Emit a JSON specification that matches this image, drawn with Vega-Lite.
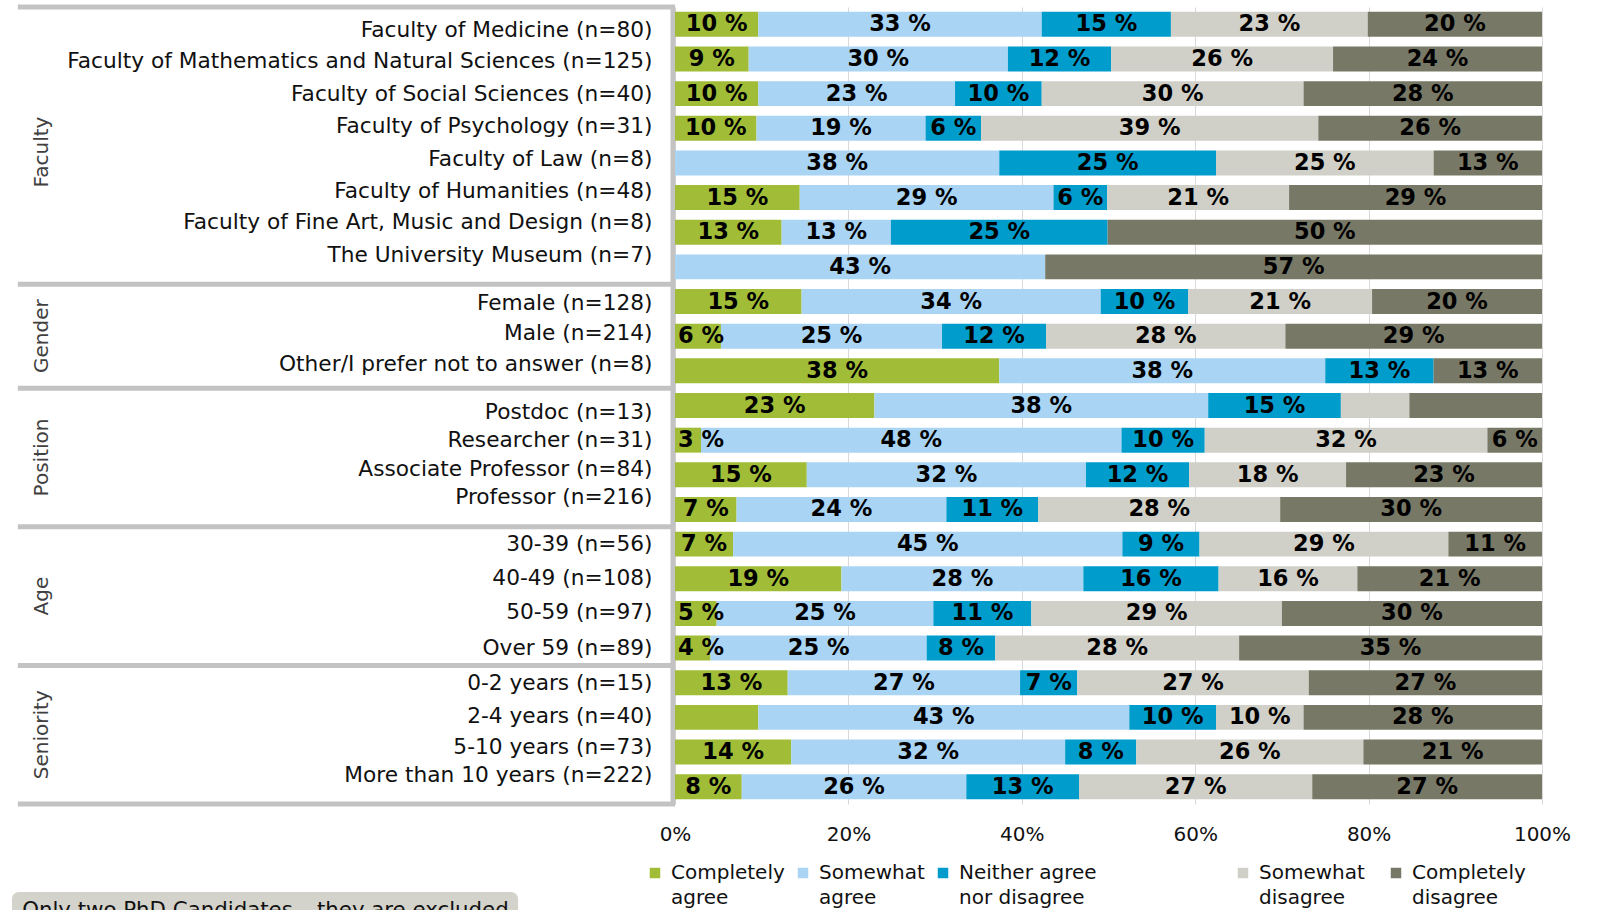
{
  "$schema": "https://vega.github.io/schema/vega-lite/v6.json",
  "width": 867,
  "height": 797,
  "autosize": {"type": "none"},
  "padding": {"left": 675, "top": 7, "right": 56, "bottom": 106},
  "background": "white",
  "config": {"font": "DejaVu Sans", "view": {"stroke": null}},
  "datasets": {
    "bars": [
      {"cat": "Faculty of Medicine (n=80)", "resp": "Completely agree", "k": 1, "pct": 9.6, "label": "10 %"},
      {"cat": "Faculty of Medicine (n=80)", "resp": "Somewhat agree", "k": 2, "pct": 32.7, "label": "33 %"},
      {"cat": "Faculty of Medicine (n=80)", "resp": "Neither agree nor disagree", "k": 3, "pct": 14.9, "label": "15 %"},
      {"cat": "Faculty of Medicine (n=80)", "resp": "Somewhat disagree", "k": 4, "pct": 22.7, "label": "23 %"},
      {"cat": "Faculty of Medicine (n=80)", "resp": "Completely disagree", "k": 5, "pct": 20.1, "label": "20 %"},
      {"cat": "Faculty of Mathematics and Natural Sciences (n=125)", "resp": "Completely agree", "k": 1, "pct": 8.5, "label": "9 %"},
      {"cat": "Faculty of Mathematics and Natural Sciences (n=125)", "resp": "Somewhat agree", "k": 2, "pct": 29.9, "label": "30 %"},
      {"cat": "Faculty of Mathematics and Natural Sciences (n=125)", "resp": "Neither agree nor disagree", "k": 3, "pct": 11.9, "label": "12 %"},
      {"cat": "Faculty of Mathematics and Natural Sciences (n=125)", "resp": "Somewhat disagree", "k": 4, "pct": 25.6, "label": "26 %"},
      {"cat": "Faculty of Mathematics and Natural Sciences (n=125)", "resp": "Completely disagree", "k": 5, "pct": 24.1, "label": "24 %"},
      {"cat": "Faculty of Social Sciences (n=40)", "resp": "Completely agree", "k": 1, "pct": 9.6, "label": "10 %"},
      {"cat": "Faculty of Social Sciences (n=40)", "resp": "Somewhat agree", "k": 2, "pct": 22.7, "label": "23 %"},
      {"cat": "Faculty of Social Sciences (n=40)", "resp": "Neither agree nor disagree", "k": 3, "pct": 10.0, "label": "10 %"},
      {"cat": "Faculty of Social Sciences (n=40)", "resp": "Somewhat disagree", "k": 4, "pct": 30.2, "label": "30 %"},
      {"cat": "Faculty of Social Sciences (n=40)", "resp": "Completely disagree", "k": 5, "pct": 27.5, "label": "28 %"},
      {"cat": "Faculty of Psychology (n=31)", "resp": "Completely agree", "k": 1, "pct": 9.4, "label": "10 %"},
      {"cat": "Faculty of Psychology (n=31)", "resp": "Somewhat agree", "k": 2, "pct": 19.5, "label": "19 %"},
      {"cat": "Faculty of Psychology (n=31)", "resp": "Neither agree nor disagree", "k": 3, "pct": 6.4, "label": "6 %"},
      {"cat": "Faculty of Psychology (n=31)", "resp": "Somewhat disagree", "k": 4, "pct": 38.9, "label": "39 %"},
      {"cat": "Faculty of Psychology (n=31)", "resp": "Completely disagree", "k": 5, "pct": 25.8, "label": "26 %"},
      {"cat": "Faculty of Law (n=8)", "resp": "Somewhat agree", "k": 2, "pct": 37.4, "label": "38 %"},
      {"cat": "Faculty of Law (n=8)", "resp": "Neither agree nor disagree", "k": 3, "pct": 25.0, "label": "25 %"},
      {"cat": "Faculty of Law (n=8)", "resp": "Somewhat disagree", "k": 4, "pct": 25.1, "label": "25 %"},
      {"cat": "Faculty of Law (n=8)", "resp": "Completely disagree", "k": 5, "pct": 12.5, "label": "13 %"},
      {"cat": "Faculty of Humanities (n=48)", "resp": "Completely agree", "k": 1, "pct": 14.4, "label": "15 %"},
      {"cat": "Faculty of Humanities (n=48)", "resp": "Somewhat agree", "k": 2, "pct": 29.3, "label": "29 %"},
      {"cat": "Faculty of Humanities (n=48)", "resp": "Neither agree nor disagree", "k": 3, "pct": 6.2, "label": "6 %"},
      {"cat": "Faculty of Humanities (n=48)", "resp": "Somewhat disagree", "k": 4, "pct": 21.0, "label": "21 %"},
      {"cat": "Faculty of Humanities (n=48)", "resp": "Completely disagree", "k": 5, "pct": 29.2, "label": "29 %"},
      {"cat": "Faculty of Fine Art, Music and Design (n=8)", "resp": "Completely agree", "k": 1, "pct": 12.3, "label": "13 %"},
      {"cat": "Faculty of Fine Art, Music and Design (n=8)", "resp": "Somewhat agree", "k": 2, "pct": 12.6, "label": "13 %"},
      {"cat": "Faculty of Fine Art, Music and Design (n=8)", "resp": "Neither agree nor disagree", "k": 3, "pct": 25.0, "label": "25 %"},
      {"cat": "Faculty of Fine Art, Music and Design (n=8)", "resp": "Completely disagree", "k": 5, "pct": 50.1, "label": "50 %"},
      {"cat": "The University Museum (n=7)", "resp": "Somewhat agree", "k": 2, "pct": 42.7, "label": "43 %"},
      {"cat": "The University Museum (n=7)", "resp": "Completely disagree", "k": 5, "pct": 57.3, "label": "57 %"},
      {"cat": "Female (n=128)", "resp": "Completely agree", "k": 1, "pct": 14.6, "label": "15 %"},
      {"cat": "Female (n=128)", "resp": "Somewhat agree", "k": 2, "pct": 34.5, "label": "34 %"},
      {"cat": "Female (n=128)", "resp": "Neither agree nor disagree", "k": 3, "pct": 10.1, "label": "10 %"},
      {"cat": "Female (n=128)", "resp": "Somewhat disagree", "k": 4, "pct": 21.2, "label": "21 %"},
      {"cat": "Female (n=128)", "resp": "Completely disagree", "k": 5, "pct": 19.6, "label": "20 %"},
      {"cat": "Male (n=214)", "resp": "Completely agree", "k": 1, "pct": 5.3, "label": "6 %"},
      {"cat": "Male (n=214)", "resp": "Somewhat agree", "k": 2, "pct": 25.5, "label": "25 %"},
      {"cat": "Male (n=214)", "resp": "Neither agree nor disagree", "k": 3, "pct": 12.0, "label": "12 %"},
      {"cat": "Male (n=214)", "resp": "Somewhat disagree", "k": 4, "pct": 27.6, "label": "28 %"},
      {"cat": "Male (n=214)", "resp": "Completely disagree", "k": 5, "pct": 29.6, "label": "29 %"},
      {"cat": "Other/I prefer not to answer (n=8)", "resp": "Completely agree", "k": 1, "pct": 37.4, "label": "38 %"},
      {"cat": "Other/I prefer not to answer (n=8)", "resp": "Somewhat agree", "k": 2, "pct": 37.6, "label": "38 %"},
      {"cat": "Other/I prefer not to answer (n=8)", "resp": "Neither agree nor disagree", "k": 3, "pct": 12.5, "label": "13 %"},
      {"cat": "Other/I prefer not to answer (n=8)", "resp": "Completely disagree", "k": 5, "pct": 12.5, "label": "13 %"},
      {"cat": "Postdoc (n=13)", "resp": "Completely agree", "k": 1, "pct": 23.0, "label": "23 %"},
      {"cat": "Postdoc (n=13)", "resp": "Somewhat agree", "k": 2, "pct": 38.5, "label": "38 %"},
      {"cat": "Postdoc (n=13)", "resp": "Neither agree nor disagree", "k": 3, "pct": 15.3, "label": "15 %"},
      {"cat": "Postdoc (n=13)", "resp": "Somewhat disagree", "k": 4, "pct": 7.9, "label": ""},
      {"cat": "Postdoc (n=13)", "resp": "Completely disagree", "k": 5, "pct": 15.3, "label": ""},
      {"cat": "Researcher (n=31)", "resp": "Completely agree", "k": 1, "pct": 3.0, "label": "3 %"},
      {"cat": "Researcher (n=31)", "resp": "Somewhat agree", "k": 2, "pct": 48.5, "label": "48 %"},
      {"cat": "Researcher (n=31)", "resp": "Neither agree nor disagree", "k": 3, "pct": 9.6, "label": "10 %"},
      {"cat": "Researcher (n=31)", "resp": "Somewhat disagree", "k": 4, "pct": 32.6, "label": "32 %"},
      {"cat": "Researcher (n=31)", "resp": "Completely disagree", "k": 5, "pct": 6.3, "label": "6 %"},
      {"cat": "Associate Professor (n=84)", "resp": "Completely agree", "k": 1, "pct": 15.2, "label": "15 %"},
      {"cat": "Associate Professor (n=84)", "resp": "Somewhat agree", "k": 2, "pct": 32.2, "label": "32 %"},
      {"cat": "Associate Professor (n=84)", "resp": "Neither agree nor disagree", "k": 3, "pct": 11.9, "label": "12 %"},
      {"cat": "Associate Professor (n=84)", "resp": "Somewhat disagree", "k": 4, "pct": 18.1, "label": "18 %"},
      {"cat": "Associate Professor (n=84)", "resp": "Completely disagree", "k": 5, "pct": 22.6, "label": "23 %"},
      {"cat": "Professor (n=216)", "resp": "Completely agree", "k": 1, "pct": 7.1, "label": "7 %"},
      {"cat": "Professor (n=216)", "resp": "Somewhat agree", "k": 2, "pct": 24.2, "label": "24 %"},
      {"cat": "Professor (n=216)", "resp": "Neither agree nor disagree", "k": 3, "pct": 10.6, "label": "11 %"},
      {"cat": "Professor (n=216)", "resp": "Somewhat disagree", "k": 4, "pct": 27.9, "label": "28 %"},
      {"cat": "Professor (n=216)", "resp": "Completely disagree", "k": 5, "pct": 30.2, "label": "30 %"},
      {"cat": "30-39 (n=56)", "resp": "Completely agree", "k": 1, "pct": 6.7, "label": "7 %"},
      {"cat": "30-39 (n=56)", "resp": "Somewhat agree", "k": 2, "pct": 44.9, "label": "45 %"},
      {"cat": "30-39 (n=56)", "resp": "Neither agree nor disagree", "k": 3, "pct": 8.9, "label": "9 %"},
      {"cat": "30-39 (n=56)", "resp": "Somewhat disagree", "k": 4, "pct": 28.7, "label": "29 %"},
      {"cat": "30-39 (n=56)", "resp": "Completely disagree", "k": 5, "pct": 10.8, "label": "11 %"},
      {"cat": "40-49 (n=108)", "resp": "Completely agree", "k": 1, "pct": 19.2, "label": "19 %"},
      {"cat": "40-49 (n=108)", "resp": "Somewhat agree", "k": 2, "pct": 27.9, "label": "28 %"},
      {"cat": "40-49 (n=108)", "resp": "Neither agree nor disagree", "k": 3, "pct": 15.6, "label": "16 %"},
      {"cat": "40-49 (n=108)", "resp": "Somewhat disagree", "k": 4, "pct": 16.0, "label": "16 %"},
      {"cat": "40-49 (n=108)", "resp": "Completely disagree", "k": 5, "pct": 21.3, "label": "21 %"},
      {"cat": "50-59 (n=97)", "resp": "Completely agree", "k": 1, "pct": 4.8, "label": "5 %"},
      {"cat": "50-59 (n=97)", "resp": "Somewhat agree", "k": 2, "pct": 25.0, "label": "25 %"},
      {"cat": "50-59 (n=97)", "resp": "Neither agree nor disagree", "k": 3, "pct": 11.3, "label": "11 %"},
      {"cat": "50-59 (n=97)", "resp": "Somewhat disagree", "k": 4, "pct": 28.9, "label": "29 %"},
      {"cat": "50-59 (n=97)", "resp": "Completely disagree", "k": 5, "pct": 30.0, "label": "30 %"},
      {"cat": "Over 59 (n=89)", "resp": "Completely agree", "k": 1, "pct": 4.1, "label": "4 %"},
      {"cat": "Over 59 (n=89)", "resp": "Somewhat agree", "k": 2, "pct": 24.9, "label": "25 %"},
      {"cat": "Over 59 (n=89)", "resp": "Neither agree nor disagree", "k": 3, "pct": 7.9, "label": "8 %"},
      {"cat": "Over 59 (n=89)", "resp": "Somewhat disagree", "k": 4, "pct": 28.1, "label": "28 %"},
      {"cat": "Over 59 (n=89)", "resp": "Completely disagree", "k": 5, "pct": 34.9, "label": "35 %"},
      {"cat": "0-2 years (n=15)", "resp": "Completely agree", "k": 1, "pct": 13.0, "label": "13 %"},
      {"cat": "0-2 years (n=15)", "resp": "Somewhat agree", "k": 2, "pct": 26.8, "label": "27 %"},
      {"cat": "0-2 years (n=15)", "resp": "Neither agree nor disagree", "k": 3, "pct": 6.6, "label": "7 %"},
      {"cat": "0-2 years (n=15)", "resp": "Somewhat disagree", "k": 4, "pct": 26.7, "label": "27 %"},
      {"cat": "0-2 years (n=15)", "resp": "Completely disagree", "k": 5, "pct": 26.9, "label": "27 %"},
      {"cat": "2-4 years (n=40)", "resp": "Completely agree", "k": 1, "pct": 9.6, "label": ""},
      {"cat": "2-4 years (n=40)", "resp": "Somewhat agree", "k": 2, "pct": 42.8, "label": "43 %"},
      {"cat": "2-4 years (n=40)", "resp": "Neither agree nor disagree", "k": 3, "pct": 10.0, "label": "10 %"},
      {"cat": "2-4 years (n=40)", "resp": "Somewhat disagree", "k": 4, "pct": 10.1, "label": "10 %"},
      {"cat": "2-4 years (n=40)", "resp": "Completely disagree", "k": 5, "pct": 27.5, "label": "28 %"},
      {"cat": "5-10 years (n=73)", "resp": "Completely agree", "k": 1, "pct": 13.4, "label": "14 %"},
      {"cat": "5-10 years (n=73)", "resp": "Somewhat agree", "k": 2, "pct": 31.6, "label": "32 %"},
      {"cat": "5-10 years (n=73)", "resp": "Neither agree nor disagree", "k": 3, "pct": 8.2, "label": "8 %"},
      {"cat": "5-10 years (n=73)", "resp": "Somewhat disagree", "k": 4, "pct": 26.2, "label": "26 %"},
      {"cat": "5-10 years (n=73)", "resp": "Completely disagree", "k": 5, "pct": 20.6, "label": "21 %"},
      {"cat": "More than 10 years (n=222)", "resp": "Completely agree", "k": 1, "pct": 7.7, "label": "8 %"},
      {"cat": "More than 10 years (n=222)", "resp": "Somewhat agree", "k": 2, "pct": 25.9, "label": "26 %"},
      {"cat": "More than 10 years (n=222)", "resp": "Neither agree nor disagree", "k": 3, "pct": 13.0, "label": "13 %"},
      {"cat": "More than 10 years (n=222)", "resp": "Somewhat disagree", "k": 4, "pct": 26.9, "label": "27 %"},
      {"cat": "More than 10 years (n=222)", "resp": "Completely disagree", "k": 5, "pct": 26.5, "label": "27 %"}
    ],
    "seps": [
      {"cat": "The University Museum (n=7)"},
      {"cat": "Other/I prefer not to answer (n=8)"},
      {"cat": "Professor (n=216)"},
      {"cat": "Over 59 (n=89)"},
      {"cat": "More than 10 years (n=222)"}
    ],
    "groups": [
      {"group": "Position", "anchor": "Researcher (n=31)"},
      {"group": "Age", "anchor": "40-49 (n=108)"},
      {"group": "Seniority", "anchor": "2-4 years (n=40)"}
    ]
  },
  "layer": [
    {
      "data": {"name": "bars"},
      "mark": {"type": "bar"},
      "encoding": {
        "y": {
          "field": "cat",
          "type": "nominal",
          "scale": {
            "domain": [
              "Faculty of Medicine (n=80)",
              "Faculty of Mathematics and Natural Sciences (n=125)",
              "Faculty of Social Sciences (n=40)",
              "Faculty of Psychology (n=31)",
              "Faculty of Law (n=8)",
              "Faculty of Humanities (n=48)",
              "Faculty of Fine Art, Music and Design (n=8)",
              "The University Museum (n=7)",
              "Female (n=128)",
              "Male (n=214)",
              "Other/I prefer not to answer (n=8)",
              "Postdoc (n=13)",
              "Researcher (n=31)",
              "Associate Professor (n=84)",
              "Professor (n=216)",
              "30-39 (n=56)",
              "40-49 (n=108)",
              "50-59 (n=97)",
              "Over 59 (n=89)",
              "0-2 years (n=15)",
              "2-4 years (n=40)",
              "5-10 years (n=73)",
              "More than 10 years (n=222)"
            ],
            "paddingInner": 0.28,
            "paddingOuter": 0.14
          },
          "axis": {
            "title": null,
            "labelFontSize": 21.7,
            "labelColor": "#111111",
            "labelPadding": 20.5,
            "labelLimit": 800,
            "ticks": false,
            "domainColor": "#c3c3c3",
            "domainWidth": 5,
            "offset": 2.5,
            "zindex": 0,
            "labelOffset": {"expr": "({'Faculty of Medicine (n=80)': 6, 'Faculty of Mathematics and Natural Sciences (n=125)': 2, 'Faculty of Psychology (n=31)': -2, 'Faculty of Law (n=8)': -4, 'Faculty of Humanities (n=48)': -7, 'Faculty of Fine Art, Music and Design (n=8)': -10, 'The University Museum (n=7)': -12, 'Female (n=128)': 1, 'Male (n=214)': -3, 'Other/I prefer not to answer (n=8)': -7, 'Postdoc (n=13)': 6, 'Associate Professor (n=84)': -6, 'Professor (n=216)': -12, '40-49 (n=108)': -1, '50-59 (n=97)': -1, '2-4 years (n=40)': -1, '5-10 years (n=73)': -5, 'More than 10 years (n=222)': -12})[datum.value] || 0"}
          }
        },
        "x": {
          "field": "pct",
          "type": "quantitative",
          "stack": "normalize",
          "scale": {"domain": [0, 1], "nice": false},
          "axis": {
            "title": null,
            "values": [0, 0.2, 0.4, 0.6, 0.8, 1],
            "format": ".0%",
            "labelFontSize": 20,
            "labelColor": "#111111",
            "labelPadding": 20,
            "labelFlush": false,
            "ticks": false,
            "domain": false,
            "grid": true,
            "gridColor": "#d9d9d9",
            "gridWidth": 1
          }
        },
        "color": {
          "field": "resp",
          "type": "nominal",
          "scale": {
            "domain": ["Completely agree", "Somewhat agree", "Neither agree nor disagree", "Somewhat disagree", "Completely disagree"],
            "range": ["#a1bd37", "#a9d4f3", "#009ccc", "#d0d0c8", "#787866"]
          },
          "legend": {
            "title": null,
            "orient": "none",
            "legendX": -30,
            "legendY": 856,
            "direction": "horizontal",
            "symbolType": "square",
            "symbolSize": 110,
            "symbolStrokeWidth": 0,
            "labelFontSize": 20,
            "labelColor": "#111111",
            "labelOffset": 6,
            "columnPadding": 8,
            "labelLimit": 500,
            "labelExpr": "datum.label == 'Completely agree' ? ['Completely', 'agree'] : datum.label == 'Somewhat agree' ? ['Somewhat', 'agree'] : datum.label == 'Neither agree nor disagree' ? ['Neither agree', 'nor disagree\u00a0\u00a0\u00a0\u00a0\u00a0\u00a0\u00a0\u00a0\u00a0\u00a0\u00a0\u00a0\u00a0\u00a0\u00a0\u00a0\u00a0\u00a0\u00a0\u00a0\u00a0\u00a0\u200b'] : datum.label == 'Somewhat disagree' ? ['Somewhat\u00a0\u00a0\u200b', 'disagree'] : ['Completely', 'disagree']",
            "encode": {"labels": {"update": {"lineHeight": {"value": 25}}}}
          }
        },
        "order": {"field": "k", "type": "quantitative"}
      }
    },
    {
      "data": {"name": "seps"},
      "mark": {"type": "rule", "color": "#c3c3c3", "strokeWidth": 5},
      "encoding": {
        "y": {"field": "cat", "type": "nominal", "bandPosition": 1.194},
        "x": {"datum": -0.758, "type": "quantitative"},
        "x2": {"datum": 0}
      }
    },
    {
      "data": {"values": [{"cat": "Faculty of Medicine (n=80)"}]},
      "mark": {"type": "rule", "color": "#c3c3c3", "strokeWidth": 5},
      "encoding": {
        "y": {"field": "cat", "type": "nominal", "bandPosition": -0.194},
        "x": {"datum": -0.758, "type": "quantitative"},
        "x2": {"datum": 0}
      }
    },
    {
      "data": {"name": "bars"},
      "mark": {
        "type": "text",
        "fontSize": 22.5,
        "fontWeight": "bold",
        "color": "#000000",
        "baseline": "middle",
        "align": {"expr": "datum.k == 1 && datum.pct < 6 ? 'left' : 'center'"},
        "dx": {"expr": "datum.k == 1 && datum.pct < 6 ? 3 - datum.pct / 100 * width / 2 : 0"}
      },
      "encoding": {
        "y": {"field": "cat", "type": "nominal"},
        "x": {"field": "pct", "type": "quantitative", "stack": "normalize", "bandPosition": 0.5},
        "detail": {"field": "resp", "type": "nominal"},
        "order": {"field": "k", "type": "quantitative"},
        "text": {"field": "label", "type": "nominal"}
      }
    },
    {
      "data": {"name": "groups"},
      "mark": {"type": "text", "angle": 270, "fontSize": 20, "color": "#404040", "align": "center", "baseline": "middle"},
      "encoding": {
        "y": {"field": "anchor", "type": "nominal", "bandPosition": 1.194},
        "x": {"datum": -0.73, "type": "quantitative"},
        "text": {"field": "group", "type": "nominal"}
      }
    },
    {
      "data": {"values": [{"group": "Faculty", "anchor": "Faculty of Psychology (n=31)"}]},
      "mark": {"type": "text", "angle": 270, "fontSize": 20, "color": "#404040", "align": "center", "baseline": "middle"},
      "encoding": {
        "y": {"field": "anchor", "type": "nominal", "bandPosition": 1.45},
        "x": {"datum": -0.73, "type": "quantitative"},
        "text": {"field": "group", "type": "nominal"}
      }
    },
    {
      "data": {"values": [{"group": "Gender", "anchor": "Male (n=214)"}]},
      "mark": {"type": "text", "angle": 270, "fontSize": 20, "color": "#404040", "align": "center", "baseline": "middle"},
      "encoding": {
        "y": {"field": "anchor", "type": "nominal", "bandPosition": 0.5},
        "x": {"datum": -0.73, "type": "quantitative"},
        "text": {"field": "group", "type": "nominal"}
      }
    },
    {
      "data": {"values": [{"note": "Only two PhD Candidates – they are excluded", "anchor": "More than 10 years (n=222)"}]},
      "mark": {"type": "rect", "color": "#d3d3cb", "cornerRadius": 7},
      "encoding": {
        "y": {"field": "anchor", "type": "nominal", "bandPosition": 4.72},
        "y2": {"field": "anchor", "bandPosition": 6.5},
        "x": {"datum": -0.7647, "type": "quantitative"},
        "x2": {"datum": -0.181}
      }
    },
    {
      "data": {"values": [{"note": "Only two PhD Candidates – they are excluded", "anchor": "More than 10 years (n=222)"}]},
      "mark": {"type": "text", "fontSize": 21.3, "color": "#111111", "align": "left", "baseline": "middle"},
      "encoding": {
        "y": {"field": "anchor", "type": "nominal", "bandPosition": 5.5},
        "x": {"datum": -0.753, "type": "quantitative"},
        "text": {"field": "note", "type": "nominal"}
      }
    }
  ]
}
